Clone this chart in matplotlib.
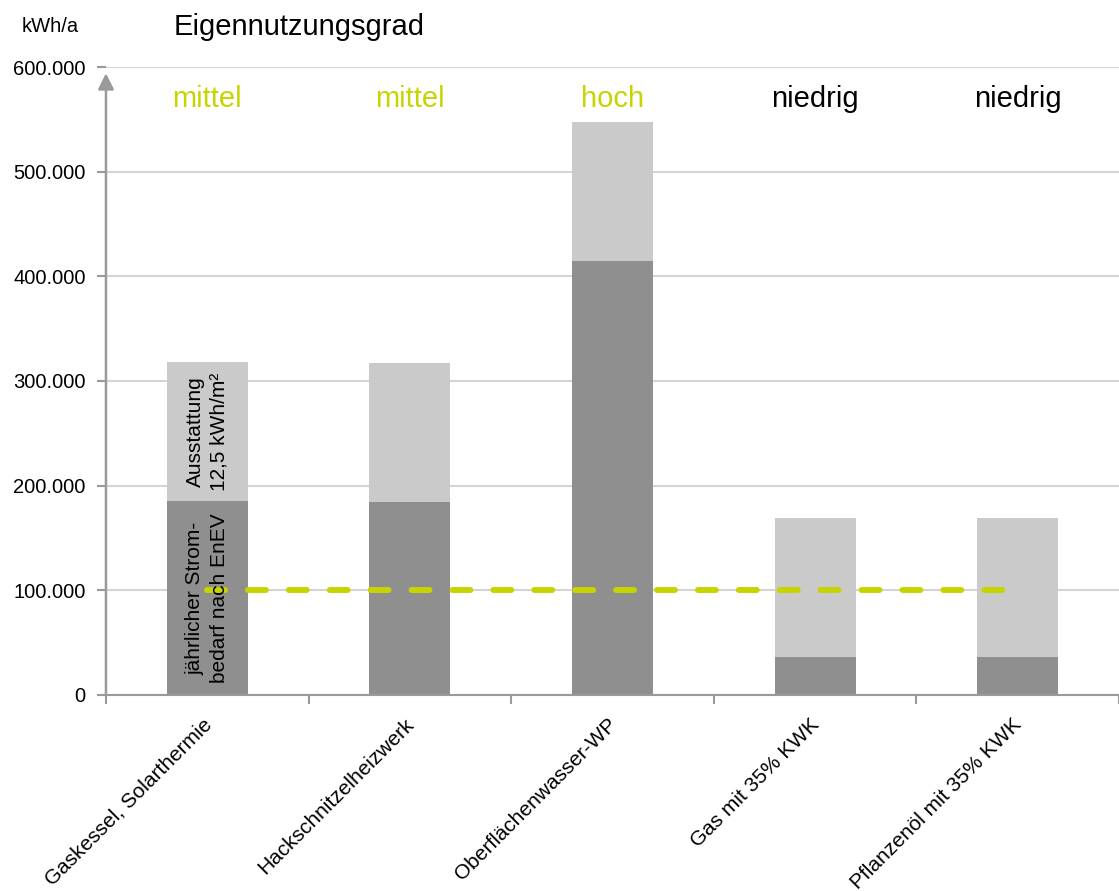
import matplotlib.pyplot as plt
import numpy as np

plt.rcParams['font.family'] = ['Liberation Sans', 'DejaVu Sans']

# Stromverbrauch je Versorgungsvariante
varianten = ['Gaskessel, Solarthermie', 'Hackschnitzelheizwerk', 'Oberflächenwasser-WP',
             'Gas mit 35% KWK', 'Pflanzenöl mit 35% KWK']
bedarf_enev = [185000, 184000, 415000, 36000, 36000]
ausstattung = [133000, 133000, 132000, 133000, 133000]
eigennutzung = ['mittel', 'mittel', 'hoch', 'niedrig', 'niedrig']
referenz = 100000
yticks = [0, 100000, 200000, 300000, 400000, 500000, 600000]

gruen = '#c8d400'
dunkel = '#8f8f8f'
hell = '#cacaca'
achse = '#9a9a9a'

fig = plt.figure(figsize=(11.19, 8.91), dpi=100)
ax = fig.add_axes([0.0947, 0.22, 0.9053, 0.7048])

x = np.arange(len(varianten))
ax.bar(x, bedarf_enev, width=0.4, color=dunkel, zorder=2)
ax.bar(x, ausstattung, width=0.4, bottom=bedarf_enev, color=hell, zorder=2)

# Referenzlinie
ax.plot([x[0], x[-1]], [referenz, referenz], color=gruen, lw=4.3,
        dashes=(3, 3.85), dash_capstyle='round', zorder=3)

# Beschriftung im ersten Balken
ax.text(x[0], bedarf_enev[0] + ausstattung[0] / 2, 'Ausstattung\n12,5 kWh/m²',
        rotation=90, ha='center', va='center', fontsize=15, linespacing=1.35, zorder=4)
ax.text(x[0], bedarf_enev[0] / 2, 'jährlicher Strom-\nbedarf nach EnEV',
        rotation=90, ha='center', va='center', fontsize=15, linespacing=1.35, zorder=4)

# Eigennutzungsgrad oberhalb der Balken
for i, grad in enumerate(eigennutzung):
    farbe = gruen if grad in ('mittel', 'hoch') else 'black'
    ax.text(x[i], 569000, grad, ha='center', va='center', fontsize=21, color=farbe)

ax.set_xlim(-0.5, len(varianten) - 0.5)
ax.set_ylim(0, 600000)
ax.set_yticks(yticks)
ax.set_yticklabels([f'{v:,}'.replace(',', '.') for v in yticks], fontsize=14.5)
ax.yaxis.grid(True, color='#d4d4d4', lw=1.5, zorder=0)
ax.set_axisbelow(True)

ax.set_xticks(np.arange(len(varianten) + 1) - 0.5)
ax.set_xticklabels([])
for i, name in enumerate(varianten):
    ax.annotate(name, xy=(x[i], 0), xycoords='data', xytext=(1, -19),
                textcoords='offset points', rotation=45, rotation_mode='anchor',
                ha='right', va='center', fontsize=15)

ax.tick_params(axis='both', color=achse, width=1.5, length=6.5, direction='out')
ax.tick_params(axis='y', pad=8)
for s in ['top', 'right', 'left']:
    ax.spines[s].set_visible(False)
ax.spines['bottom'].set_color(achse)
ax.spines['bottom'].set_linewidth(1.5)

# y-Achse mit Pfeil, Spitze knapp unter der obersten Gitterlinie
ax.annotate('', xy=(0, 0.99), xytext=(0, 0), xycoords='axes fraction',
            arrowprops=dict(arrowstyle='-|>', color=achse, lw=1.8, mutation_scale=24,
                            shrinkA=0, shrinkB=0), annotation_clip=False)

fig.text(0.0195, 0.970, 'kWh/a', ha='left', va='center', fontsize=14.5)
fig.text(0.155, 0.970, 'Eigennutzungsgrad', ha='left', va='center', fontsize=21)

fig.savefig('out.png', dpi=100)
